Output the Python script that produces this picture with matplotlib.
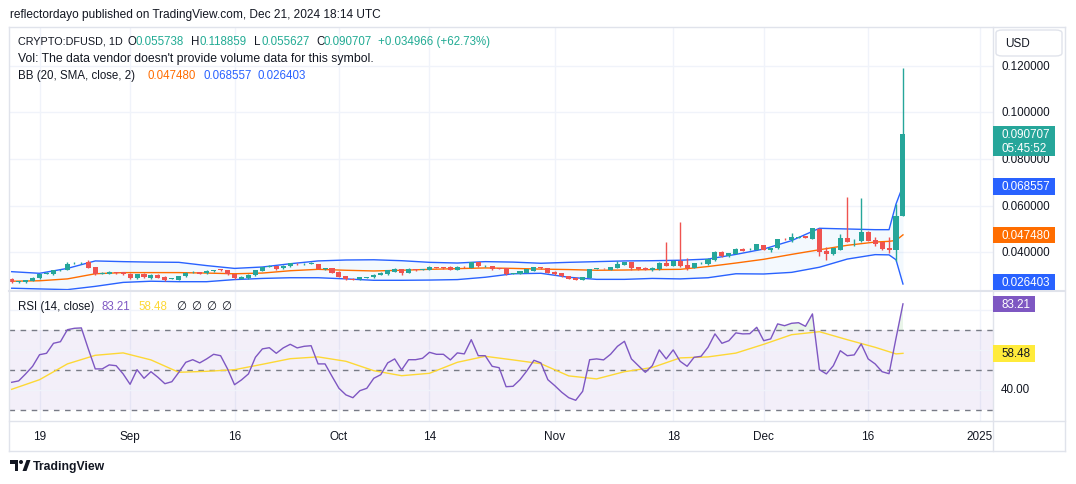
import numpy as np
import pandas as pd
import matplotlib
matplotlib.use('Agg')
import matplotlib.pyplot as plt
import matplotlib.dates as mdates
from matplotlib.patches import Rectangle, FancyBboxPatch, Polygon, Ellipse
from matplotlib.lines import Line2D

plt.rcParams['font.family'] = ['Liberation Sans', 'DejaVu Sans']

# ---- data ----
dates = pd.date_range('2024-08-15', '2024-12-21', freq='D')

open_ = [0.0286, 0.0273, 0.0271, 0.0278, 0.0288, 0.0308, 0.0306, 0.0323, 0.0326, 0.0353,
         0.0353, 0.0357, 0.0336, 0.0308, 0.0308, 0.0314, 0.0314, 0.0308, 0.0288, 0.0308,
         0.0290, 0.0303, 0.0296, 0.0287, 0.0283, 0.0297, 0.0314, 0.0314, 0.0310, 0.0318,
         0.0327, 0.0323, 0.0306, 0.0287, 0.0288, 0.0301, 0.0320, 0.0339, 0.0341, 0.0331,
         0.0340, 0.0351, 0.0350, 0.0352, 0.0350, 0.0329, 0.0331, 0.0316, 0.0298, 0.0287,
         0.0284, 0.0291, 0.0293, 0.0303, 0.0306, 0.0316, 0.0328, 0.0313, 0.0327, 0.0326,
         0.0326, 0.0337, 0.0336, 0.0338, 0.0326, 0.0338, 0.0334, 0.0358, 0.0342, 0.0341,
         0.0331, 0.0331, 0.0308, 0.0308, 0.0313, 0.0321, 0.0337, 0.0331, 0.0316, 0.0310,
         0.0298, 0.0291, 0.0283, 0.0291, 0.0330, 0.0332, 0.0326, 0.0334, 0.0346, 0.0358,
         0.0337, 0.0334, 0.0322, 0.0328, 0.0356, 0.0343, 0.0361, 0.0346, 0.0333, 0.0353,
         0.0348, 0.0368, 0.0401, 0.0383, 0.0394, 0.0414, 0.0413, 0.0410, 0.0431, 0.0411,
         0.0417, 0.0458, 0.0453, 0.0463, 0.0468, 0.0457, 0.0500, 0.0407, 0.0393, 0.0411,
         0.0461, 0.0452, 0.0447, 0.0488, 0.0453, 0.0443, 0.0418, 0.0411, 0.055738]
high = [0.0289, 0.0278, 0.0283, 0.0293, 0.0309, 0.0314, 0.0325, 0.0330, 0.0357, 0.0360,
        0.0360, 0.0367, 0.0338, 0.0314, 0.0320, 0.0317, 0.0316, 0.0310, 0.0308, 0.0310,
        0.0305, 0.0305, 0.0298, 0.0291, 0.0299, 0.0315, 0.0319, 0.0316, 0.0322, 0.0326,
        0.0329, 0.0325, 0.0308, 0.0298, 0.0306, 0.0326, 0.0339, 0.0344, 0.0343, 0.0345,
        0.0355, 0.0353, 0.0355, 0.0357, 0.0352, 0.0334, 0.0333, 0.0318, 0.0300, 0.0289,
        0.0295, 0.0295, 0.0306, 0.0315, 0.0325, 0.0332, 0.0330, 0.0332, 0.0329, 0.0330,
        0.0340, 0.0339, 0.0338, 0.0340, 0.0340, 0.0340, 0.0360, 0.0360, 0.0346, 0.0343,
        0.0333, 0.0333, 0.0313, 0.0320, 0.0329, 0.0339, 0.0339, 0.0333, 0.0318, 0.0312,
        0.0300, 0.0293, 0.0296, 0.0330, 0.0334, 0.0334, 0.0339, 0.0361, 0.0360, 0.0360,
        0.0339, 0.0336, 0.0335, 0.0358, 0.0446, 0.0365, 0.0528, 0.0374, 0.0356, 0.0358,
        0.0374, 0.0406, 0.0404, 0.0399, 0.0418, 0.0417, 0.0418, 0.0436, 0.0433, 0.0420,
        0.0459, 0.0461, 0.0482, 0.0470, 0.0471, 0.0505, 0.0503, 0.0421, 0.0419, 0.0478,
        0.0639, 0.0456, 0.0633, 0.0490, 0.0464, 0.0445, 0.0464, 0.0607, 0.118859]
low = [0.0268, 0.0270, 0.0269, 0.0276, 0.0286, 0.0305, 0.0304, 0.0321, 0.0324, 0.0348,
       0.0349, 0.0332, 0.0304, 0.0305, 0.0306, 0.0307, 0.0304, 0.0286, 0.0286, 0.0291,
       0.0286, 0.0289, 0.0279, 0.0284, 0.0281, 0.0295, 0.0311, 0.0306, 0.0308, 0.0316,
       0.0321, 0.0304, 0.0286, 0.0285, 0.0286, 0.0299, 0.0318, 0.0336, 0.0326, 0.0329,
       0.0338, 0.0346, 0.0347, 0.0349, 0.0328, 0.0326, 0.0311, 0.0294, 0.0282, 0.0281,
       0.0282, 0.0289, 0.0291, 0.0301, 0.0304, 0.0314, 0.0303, 0.0311, 0.0321, 0.0323,
       0.0324, 0.0331, 0.0329, 0.0324, 0.0324, 0.0334, 0.0332, 0.0338, 0.0339, 0.0325,
       0.0327, 0.0304, 0.0306, 0.0306, 0.0311, 0.0319, 0.0329, 0.0311, 0.0304, 0.0295,
       0.0285, 0.0281, 0.0281, 0.0289, 0.0327, 0.0329, 0.0324, 0.0332, 0.0344, 0.0323,
       0.0325, 0.0324, 0.0320, 0.0326, 0.0341, 0.0341, 0.0339, 0.0324, 0.0331, 0.0351,
       0.0345, 0.0364, 0.0380, 0.0380, 0.0392, 0.0404, 0.0410, 0.0408, 0.0409, 0.0403,
       0.0415, 0.0452, 0.0443, 0.0460, 0.0460, 0.0455, 0.0386, 0.0368, 0.0390, 0.0409,
       0.0444, 0.0428, 0.0445, 0.0448, 0.0428, 0.0412, 0.0397, 0.0364, 0.055627]
close = [0.0271, 0.0275, 0.0281, 0.0291, 0.0307, 0.0310, 0.0323, 0.0326, 0.0350, 0.0354,
         0.0356, 0.0334, 0.0306, 0.0310, 0.0317, 0.0310, 0.0306, 0.0288, 0.0306, 0.0293,
         0.0303, 0.0291, 0.0281, 0.0288, 0.0297, 0.0313, 0.0316, 0.0308, 0.0320, 0.0324,
         0.0323, 0.0306, 0.0288, 0.0296, 0.0304, 0.0324, 0.0337, 0.0340, 0.0328, 0.0343,
         0.0353, 0.0348, 0.0351, 0.0353, 0.0330, 0.0331, 0.0313, 0.0296, 0.0284, 0.0283,
         0.0293, 0.0292, 0.0304, 0.0313, 0.0323, 0.0330, 0.0310, 0.0330, 0.0323, 0.0327,
         0.0338, 0.0333, 0.0331, 0.0326, 0.0338, 0.0336, 0.0358, 0.0340, 0.0343, 0.0327,
         0.0330, 0.0306, 0.0311, 0.0318, 0.0327, 0.0337, 0.0331, 0.0313, 0.0306, 0.0297,
         0.0287, 0.0283, 0.0294, 0.0328, 0.0331, 0.0331, 0.0337, 0.0351, 0.0358, 0.0334,
         0.0327, 0.0326, 0.0333, 0.0356, 0.0343, 0.0363, 0.0341, 0.0331, 0.0354, 0.0355,
         0.0371, 0.0400, 0.0383, 0.0397, 0.0414, 0.0407, 0.0415, 0.0434, 0.0411, 0.0417,
         0.0457, 0.0456, 0.0466, 0.0465, 0.0463, 0.0503, 0.0403, 0.0394, 0.0417, 0.0461,
         0.0446, 0.0454, 0.0488, 0.0450, 0.0437, 0.0414, 0.0408, 0.0557, 0.090707]

# Bollinger bands sampled along the chart (day index into dates)
bb_idx = [0, 4, 8, 12, 16, 20, 24, 28, 32, 36, 40, 44, 48, 52, 56, 60, 64, 68, 72, 76,
          80, 84, 88, 92, 96, 100, 104, 108, 112, 116, 120, 124, 126, 127, 128]
bb_upper = [0.0317, 0.0310, 0.0331, 0.0363, 0.0360, 0.0358, 0.0357, 0.0343, 0.0331, 0.0337,
            0.0351, 0.0363, 0.0367, 0.0368, 0.0364, 0.0357, 0.0354, 0.0360, 0.0358, 0.0353,
            0.0357, 0.0360, 0.0363, 0.0364, 0.0366, 0.0371, 0.0391, 0.0414, 0.0450, 0.0503,
            0.0500, 0.0497, 0.0497, 0.0607, 0.068557]
bb_mid = [0.0276, 0.0278, 0.0286, 0.0308, 0.0313, 0.0313, 0.0313, 0.0311, 0.0308, 0.0311,
          0.0321, 0.0327, 0.0323, 0.0320, 0.0323, 0.0327, 0.0330, 0.0333, 0.0331, 0.0328,
          0.0326, 0.0323, 0.0324, 0.0326, 0.0327, 0.0339, 0.0354, 0.0370, 0.0391, 0.0411,
          0.0430, 0.0444, 0.0447, 0.0451, 0.047480]
bb_lower = [0.0246, 0.0243, 0.0240, 0.0254, 0.0271, 0.0276, 0.0274, 0.0274, 0.0283, 0.0288,
            0.0291, 0.0291, 0.0286, 0.0280, 0.0280, 0.0281, 0.0283, 0.0293, 0.0308, 0.0310,
            0.0293, 0.0284, 0.0284, 0.0288, 0.0286, 0.0291, 0.0308, 0.0307, 0.0314, 0.0336,
            0.0371, 0.0390, 0.0389, 0.0368, 0.026403]

rsi = [44.0, 44.7, 48.2, 52.0, 57.8, 58.5, 63.5, 64.3, 70.3, 71.0,
       71.2, 60.7, 50.7, 50.7, 52.7, 52.3, 48.2, 43.0, 50.3, 46.0,
       49.3, 46.5, 43.3, 44.3, 49.0, 54.0, 55.3, 53.7, 55.7, 58.0,
       57.3, 50.7, 42.8, 45.2, 48.2, 56.5, 60.7, 61.3, 58.5, 61.2,
       63.0, 61.2, 62.0, 62.3, 53.2, 53.2, 47.0, 41.0, 37.7, 36.3,
       39.8, 41.0, 46.0, 47.8, 53.7, 55.7, 50.2, 55.3, 55.3, 56.0,
       59.0, 58.0, 58.0, 55.2, 58.7, 58.2, 65.3, 57.3, 57.3, 52.0,
       51.3, 41.8, 42.0, 45.3, 49.8, 55.0, 53.7, 45.3, 42.3, 39.0,
       36.3, 35.0, 39.5, 55.3, 55.7, 55.2, 58.0, 62.0, 64.5, 55.7,
       52.3, 49.0, 52.3, 60.2, 55.7, 60.2, 54.5, 52.0, 56.5, 57.0,
       61.5, 68.2, 63.5, 64.8, 68.7, 68.2, 68.3, 71.5, 64.8, 65.7,
       73.2, 72.3, 73.5, 73.8, 72.0, 78.2, 50.3, 48.2, 52.3, 59.8,
       57.3, 57.7, 63.2, 55.7, 53.2, 49.3, 48.3, 66.0, 83.21]
rsi_ma = [40.5, 45.3, 53.2, 57.5, 58.7, 55.2, 49.0, 49.5, 50.3, 53.0,
          55.8, 56.7, 54.5, 49.8, 47.3, 48.5, 54.0, 57.0, 55.2, 53.3,
          47.2, 45.7, 49.3, 51.4, 56.2, 56.7, 58.6, 63.0, 67.8, 69.3,
          65.3, 61.5, 59.3, 58.2, 58.48]

tick_dates = ['2024-08-19', '2024-09-01', '2024-09-16', '2024-10-01', '2024-10-14',
              '2024-11-01', '2024-11-18', '2024-12-01', '2024-12-16', '2025-01-01']
tick_labels = ['19', 'Sep', '16', 'Oct', '14', 'Nov', '18', 'Dec', '16', '2025']
price_ticks = [0.04, 0.06, 0.08, 0.10, 0.12]
rsi_grid = [40, 60, 80]
rsi_levels = [30, 50, 70]

# ---- styling ----
W, H = 1076, 485
UP, DOWN = '#26a69a', '#ef5350'
TXT = '#131722'
GRID = '#f0f3fa'
BORDER = '#e0e3eb'

fig = plt.figure(figsize=(W / 100, H / 100), dpi=100)
fig.patch.set_facecolor('white')


def fx(x):
    return x / W


def fy(y):
    return 1 - y / H


ax = fig.add_axes([fx(9), fy(291), (993 - 9) / W, (291 - 28) / H])
ax2 = fig.add_axes([fx(9), fy(421.7), (993 - 9) / W, (421.7 - 292) / H])

x = mdates.date2num(dates)
d0 = x[0]
xl = (d0 - 0.388, d0 + 140.93)
o, h, l, c = map(np.array, (open_, high, low, close))
cols = np.where(c >= o, UP, DOWN)

for a in (ax, ax2):
    a.set_xlim(*xl)
    for s in a.spines.values():
        s.set_visible(False)
    a.set_xticks([])
    a.set_yticks([])
    for td in tick_dates:
        a.axvline(mdates.date2num(pd.Timestamp(td)), color=GRID, lw=1, zorder=0)

# price pane
ax.set_ylim(0.02384, 0.13659)
for p in price_ticks:
    ax.axhline(p, color=GRID, lw=1, zorder=0)

xb = x[bb_idx]
ax.fill_between(xb, bb_lower, bb_upper, color='#2196f3', alpha=0.05, lw=0, zorder=1)
ax.plot(xb, bb_upper, color='#2962ff', lw=1, zorder=2)
ax.plot(xb, bb_lower, color='#2962ff', lw=1, zorder=2)
ax.plot(xb, bb_mid, color='#ff6d00', lw=1, zorder=2)

ax.vlines(x, l, h, colors=cols, lw=1, zorder=3)
ax.bar(x, np.maximum(np.abs(c - o), 0.00012), bottom=np.minimum(o, c), width=0.72,
       color=cols, lw=0, zorder=4)

# RSI pane
ax2.set_ylim(24.8, 89.65)
ax2.axhspan(30, 70, color='#7e57c2', alpha=0.09, lw=0, zorder=0)
for v in rsi_grid:
    ax2.axhline(v, color=GRID, lw=1, zorder=0)
for v in rsi_levels:
    ax2.axhline(v, color='#787b86', lw=1, ls=(0, (4, 4)), zorder=1)
r = np.array(rsi)
ax2.fill_between(x, 70, r, where=r > 70, interpolate=True, color='#4caf50', alpha=0.12, lw=0)
ax2.plot(x[bb_idx], rsi_ma, color='#fdd835', lw=1, zorder=2)
ax2.plot(x, rsi, color='#7e57c2', lw=1, zorder=3)

# ---- frame lines ----
def hline(y, x0, x1, lw=1, color=BORDER):
    fig.add_artist(Line2D([fx(x0), fx(x1)], [fy(y), fy(y)], color=color, lw=lw))


def vline(xp, y0, y1, lw=1, color=BORDER):
    fig.add_artist(Line2D([fx(xp), fx(xp)], [fy(y0), fy(y1)], color=color, lw=lw))


hline(28, 9, 1065)
hline(291.5, 9, 1065, lw=1.5)
hline(421.7, 9, 1065)
hline(452, 9, 1065)
vline(9, 28, 452)
vline(993, 28, 452)
vline(1065, 28, 452)

# ---- x tick labels ----
for td, lab in zip(tick_dates, tick_labels):
    xd = mdates.date2num(pd.Timestamp(td))
    xp = 9 + (xd - xl[0]) / (xl[1] - xl[0]) * (993 - 9)
    fig.text(fx(xp), fy(437), lab, ha='center', va='center', fontsize=8.5, color=TXT)

# ---- header texts ----
fig.text(fx(10), fy(15), 'reflectordayo published on TradingView.com, Dec 21, 2024 18:14 UTC',
         fontsize=8.6, color=TXT, va='center')

VAL = '#22ab94'
hdr = [(18, 'CRYPTO:DFUSD, 1D', TXT, 7.8), (128, 'O', TXT, 8.3), (135, '0.055738', VAL, 8.3),
       (191, 'H', TXT, 8.3), (199, '0.118859', VAL, 8.3), (254, 'L', TXT, 8.3),
       (261, '0.055627', VAL, 8.3), (316, 'C', TXT, 8.3), (323, '0.090707', VAL, 8.3),
       (378, '+0.034966 (+62.73%)', VAL, 8.3)]
for xp, s, col, fs in hdr:
    fig.text(fx(xp), fy(42), s, fontsize=fs, color=col, va='center')
fig.text(fx(18), fy(59), "Vol: The data vendor doesn't provide volume data for this symbol.",
         fontsize=8.8, color=TXT, va='center')
bbh = [(18, 'BB (20, SMA, close, 2)', TXT), (147, '0.047480', '#ff6d00'),
       (203, '0.068557', '#2962ff'), (258, '0.026403', '#2962ff')]
for xp, s, col in bbh:
    fig.text(fx(xp), fy(76), s, fontsize=8.3, color=col, va='center')
rsh = [(18, 'RSI (14, close)', TXT), (102, '83.21', '#7e57c2'), (138, '58.48', '#fdd835'),
       (176, '\u2205', TXT), (191, '\u2205', TXT), (206, '\u2205', TXT), (221, '\u2205', TXT)]
for xp, s, col in rsh:
    fig.text(fx(xp), fy(307), s, fontsize=8.3, color=col, va='center')

# ---- right price scale ----
fig.add_artist(FancyBboxPatch((fx(996), fy(57)), (1062 - 996) / W, 26 / H,
                              boxstyle='round,pad=0,rounding_size=0.006',
                              transform=fig.transFigure, fc='white', ec=BORDER, lw=1))
fig.text(fx(1005), fy(44), 'USD', fontsize=8.5, color=TXT, va='center')
for p in price_ticks:
    yp = 28 + (0.13659 - p) / (0.13659 - 0.02384) * (291 - 28)
    fig.text(fx(1001), fy(yp), '%.6f' % p, fontsize=8.4, color=TXT, va='center')
fig.text(fx(1001), fy(390), '40.00', fontsize=8.4, color=TXT, va='center')


def tag(y0, y1, x1, fc, lines, tc='white'):
    fig.add_artist(Rectangle((fx(993), fy(y1)), (x1 - 993) / W, (y1 - y0) / H,
                             transform=fig.transFigure, fc=fc, ec='none', zorder=5))
    n = len(lines)
    for k, s in enumerate(lines):
        yc = y0 + (y1 - y0) * (k + 0.5) / n
        fig.text(fx(1001), fy(yc), s, fontsize=8.4, color=tc, va='center', zorder=6)


tag(127, 157, 1055, UP, ['0.090707', '05:45:52'])
tag(179, 196, 1055, '#2962ff', ['0.068557'])
tag(228, 244, 1055, '#ff6d00', ['0.047480'])
tag(275, 291, 1055, '#2962ff', ['0.026403'])
tag(297, 313, 1035, '#7e57c2', ['83.21'])
tag(346, 363, 1035, '#ffeb3b', ['58.48'], tc=TXT)

# ---- TradingView footer ----
fig.add_artist(Polygon([(fx(10), fy(461)), (fx(18), fy(461)), (fx(18), fy(472)),
                        (fx(14.5), fy(472)), (fx(14.5), fy(465)), (fx(10), fy(465))],
                       closed=True, transform=fig.transFigure, fc=TXT, ec='none'))
fig.add_artist(Ellipse((fx(21), fy(463)), 4 / W, 4 / H, transform=fig.transFigure,
                       fc=TXT, ec='none'))
fig.add_artist(Polygon([(fx(22.5), fy(472)), (fx(26.5), fy(461)), (fx(30.5), fy(461)),
                        (fx(26.5), fy(472))], closed=True, transform=fig.transFigure,
                       fc=TXT, ec='none'))
fig.text(fx(33), fy(467), 'TradingView', fontsize=8.8, color=TXT, va='center',
         fontweight='bold')

fig.savefig('out.png', dpi=100, facecolor='white')
